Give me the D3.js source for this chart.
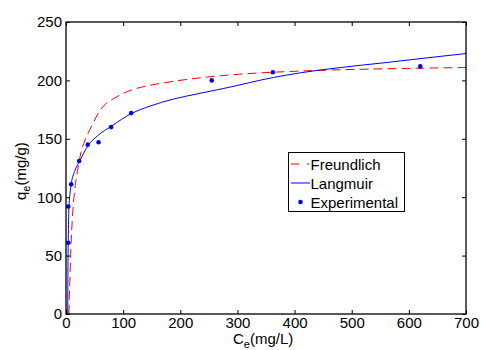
<!DOCTYPE html>
<html>
<head>
<meta charset="utf-8">
<script src="https://cdn.jsdelivr.net/npm/d3@7"></script>
<style>
  body { margin: 0; background: #fff; }
  svg text { font-family: "Liberation Sans", Arial, sans-serif; fill: #000; }
</style>
</head>
<body>
<div id="chart"></div>
<script>
// values
const expC = [4, 4, 9, 23, 38, 57, 79, 114, 255, 362, 620];
const expQ = [61, 92, 111, 131, 145, 147, 160, 172, 200, 207, 212];

const freundC = [5, 6.5, 8.5, 11.5, 15, 20, 26, 33, 45, 60, 89, 118, 144, 188, 240, 304, 421, 555, 700];
const freundQ = [0, 25, 55, 85, 105, 122, 138, 148.5, 161, 174.5, 186, 192.3, 195.5, 199.2, 202.5, 205.3, 208.2, 209.9, 211];

const langC = [3, 3.5, 4, 5, 7, 9, 15, 24, 39, 55, 80, 114, 147, 188, 230, 275, 363, 410, 480, 555, 630, 700];
const langQ = [0, 45, 65, 90, 103, 111, 122, 131, 144.5, 152.5, 161, 171.5, 178, 184, 188.5, 193, 202.5, 206.5, 211, 215, 219.2, 223];

const xTicks = [0, 100, 200, 300, 400, 500, 600, 700];
const yTicks = [0, 50, 100, 150, 200, 250];

const width = 481, height = 350;
const margin = { left: 66, right: 15, top: 22, bottom: 36 };
const iw = width - margin.left - margin.right;
const ih = height - margin.top - margin.bottom;

const svg = d3.select('#chart').append('svg')
  .attr('width', width)
  .attr('height', height);

const x = d3.scaleLinear().domain([0, 700]).range([margin.left, margin.left + iw]);
const y = d3.scaleLinear().domain([0, 250]).range([margin.top + ih, margin.top]);

const plot = svg.append('g');

// clip to axes box
svg.append('clipPath').attr('id', 'clip')
  .append('rect')
  .attr('x', margin.left).attr('y', margin.top)
  .attr('width', iw).attr('height', ih);

const line = d3.line()
  .x(d => x(d[0]))
  .y(d => y(d[1]))
  .curve(d3.curveMonotoneX);

plot.append('path')
  .datum(d3.zip(freundC, freundQ))
  .attr('clip-path', 'url(#clip)')
  .attr('d', line)
  .attr('fill', 'none')
  .attr('stroke', '#ff0000')
  .attr('stroke-width', 1)
  .attr('stroke-dasharray', '9,5');

plot.append('path')
  .datum(d3.zip(langC, langQ))
  .attr('clip-path', 'url(#clip)')
  .attr('d', line)
  .attr('fill', 'none')
  .attr('stroke', '#0000ff')
  .attr('stroke-width', 1);

plot.selectAll('circle.exp')
  .data(d3.zip(expC, expQ))
  .enter()
  .append('circle')
  .attr('class', 'exp')
  .attr('cx', d => x(d[0]))
  .attr('cy', d => y(d[1]))
  .attr('r', 2.3)
  .attr('fill', '#0000ff');

// axes: bottom and left with labels, top and right ticks only
const tickLen = 4;
const axBottom = svg.append('g')
  .attr('transform', `translate(0,${margin.top + ih})`)
  .call(d3.axisBottom(x).tickValues(xTicks).tickSize(-tickLen).tickPadding(3));
const axLeft = svg.append('g')
  .attr('transform', `translate(${margin.left},0)`)
  .call(d3.axisLeft(y).tickValues(yTicks).tickSize(-tickLen).tickPadding(4));
const axTop = svg.append('g')
  .attr('transform', `translate(0,${margin.top})`)
  .call(d3.axisTop(x).tickValues(xTicks).tickSize(-tickLen).tickFormat(''));
const axRight = svg.append('g')
  .attr('transform', `translate(${margin.left + iw},0)`)
  .call(d3.axisRight(y).tickValues(yTicks).tickSize(-tickLen).tickFormat(''));

[axBottom, axLeft, axTop, axRight].forEach(g => {
  g.select('.domain').remove();
  g.selectAll('.tick line').attr('stroke', '#000').attr('stroke-width', 1);
  g.selectAll('.tick text').style('font-size', '15px').attr('fill', '#000');
});

svg.append('rect')
  .attr('x', margin.left).attr('y', margin.top)
  .attr('width', iw).attr('height', ih)
  .attr('fill', 'none')
  .attr('stroke', '#000')
  .attr('stroke-width', 1.3);

// axis titles
const xt = svg.append('text')
  .attr('x', 233).attr('y', 344)
  .style('font-size', '15px');
xt.append('tspan').text('C');
xt.append('tspan').attr('dy', 4).style('font-size', '11px').text('e');
xt.append('tspan').attr('dy', -4).text('(mg/L)');

const yt = svg.append('text')
  .attr('transform', 'translate(26,200) rotate(-90)')
  .style('font-size', '15px');
yt.append('tspan').text('q');
yt.append('tspan').attr('dy', 4).style('font-size', '11px').text('e');
yt.append('tspan').attr('dy', -4).text('(mg/g)');

// legend
const legendItems = ['Freundlich', 'Langmuir', 'Experimental'];
const legend = svg.append('g');
legend.append('rect')
  .attr('x', 288.5).attr('y', 152.5)
  .attr('width', 116).attr('height', 59)
  .attr('fill', '#fff')
  .attr('stroke', '#000')
  .attr('stroke-width', 1);

const rowY = [164, 183, 202];
legend.append('line')
  .attr('x1', 291).attr('x2', 309).attr('y1', rowY[0]).attr('y2', rowY[0])
  .attr('stroke', '#ff0000').attr('stroke-dasharray', '8,8');
legend.append('line')
  .attr('x1', 291).attr('x2', 310).attr('y1', rowY[1]).attr('y2', rowY[1])
  .attr('stroke', '#0000ff');
legend.append('circle')
  .attr('cx', 300.5).attr('cy', rowY[2]).attr('r', 2.3)
  .attr('fill', '#0000ff');

legend.selectAll('text.leg')
  .data(legendItems)
  .enter()
  .append('text')
  .attr('class', 'leg')
  .attr('x', 310.5)
  .attr('y', (d, i) => rowY[i] + 5.5)
  .style('font-size', '15px')
  .text(d => d);
</script>
</body>
</html>
